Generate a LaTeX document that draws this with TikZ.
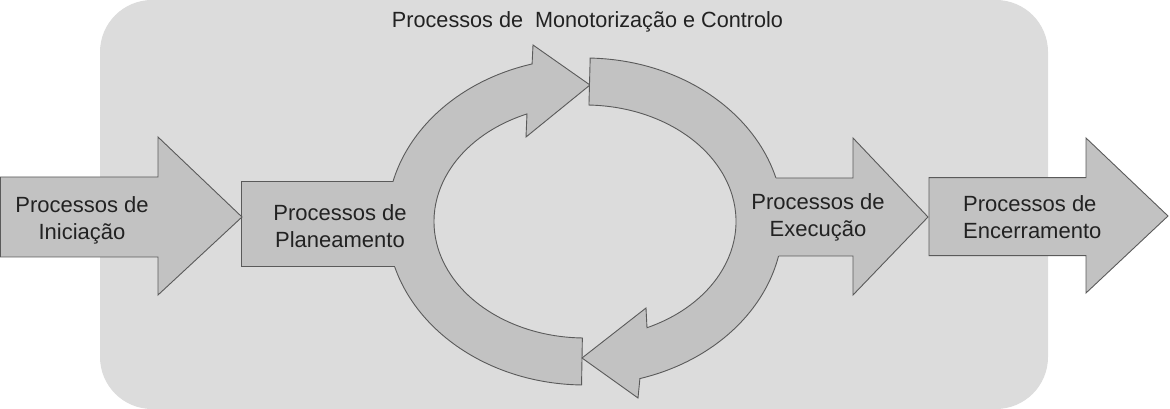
\documentclass[tikz,border=0pt]{standalone}
\usepackage{fontspec}
\setmainfont{Liberation Sans}
\usepackage{graphicx}
\usetikzlibrary{calc}
\definecolor{bgc}{HTML}{DCDCDC}
\definecolor{arf}{HTML}{C2C2C2}
\definecolor{edg}{HTML}{5A5A5A}
\definecolor{txt}{HTML}{222222}
\tikzset{
  arrowshape/.style={fill=arf, draw=edg, line width=0.9pt, line join=miter},
  edgeonly/.style={draw=edg, line width=0.9pt},
  lbl/.style={text=txt, font=\fontsize{22}{27}\selectfont, align=center, inner sep=0pt},
}
\begin{document}
\begin{tikzpicture}[x=1pt,y=1pt]
\useasboundingbox (0,0) rectangle (1170,409);
% background panel
\fill[bgc, rounded corners=52pt] (100,0) rectangle (1048,409);
% left half of the cycle (arrow pointing right at top)
\path[arrowshape] ($(585,187.5)+(269:198 and 163.5)$)
  arc[start angle=269, end angle=105.5, x radius=198, y radius=163.5]
  -- (533,364) -- (590,324) -- (526,272)
  -- ($(585,187.5)+(112.6:151 and 116.5)$)
  arc[start angle=112.6, end angle=269, x radius=151, y radius=116.5] -- cycle;
% right half of the cycle (arrow pointing left at bottom)
\path[arrowshape] ($(585,187.5)+(88.5:198 and 163.5)$)
  arc[start angle=88.5, end angle=-73.9, x radius=198, y radius=163.5]
  -- (638,11) -- (582,51) -- (646,101)
  -- ($(585,187.5)+(-65.76:151 and 116.5)$)
  arc[start angle=-65.76, end angle=88.5, x radius=151, y radius=116.5] -- cycle;
% Planeamento box merged with the ring
\fill[arf] (241.7,142.3) rectangle (415,227.3);
\draw[edgeonly] (393,227.3) -- (241.7,227.3) -- (241.7,142.3) -- (394.7,142.3);
% Execucao arrow merged with the ring
\fill[arf] (760,231) -- (853,231) -- (853,271) -- (928,192) -- (853,114) -- (853,153) -- (760,153) -- cycle;
\draw[edgeonly, line join=miter] (775.9,231) -- (853,231) -- (853,271) -- (928,192) -- (853,114) -- (853,153) -- (778.5,153);
% Iniciacao arrow
\path[arrowshape] (0.5,232) -- (158,232) -- (158,272) -- (242,192) -- (158,114) -- (158,152) -- (0.5,152) -- cycle;
% Encerramento arrow
\path[arrowshape] (929,231.3) -- (1086,231.3) -- (1086,271) -- (1168,193) -- (1086,116) -- (1086,153.3) -- (929,153.3) -- cycle;
% labels
\node[lbl] (title) at (587.5,387) {\resizebox{391pt}{\height}{Processos de\ \ Monotorização e Controlo}};
\node[lbl] (ini) at (82,189) {Processos de\\Iniciação};
\node[lbl] (plan) at (340,183) {Processos de\\Planeamento};
\node[lbl] (exec) at (818,191.5) {Processos de\\Execução};
\node[lbl, anchor=west, align=left] (enc) at (963,191.5) {Processos de\\Encerramento};
\end{tikzpicture}
\end{document}
